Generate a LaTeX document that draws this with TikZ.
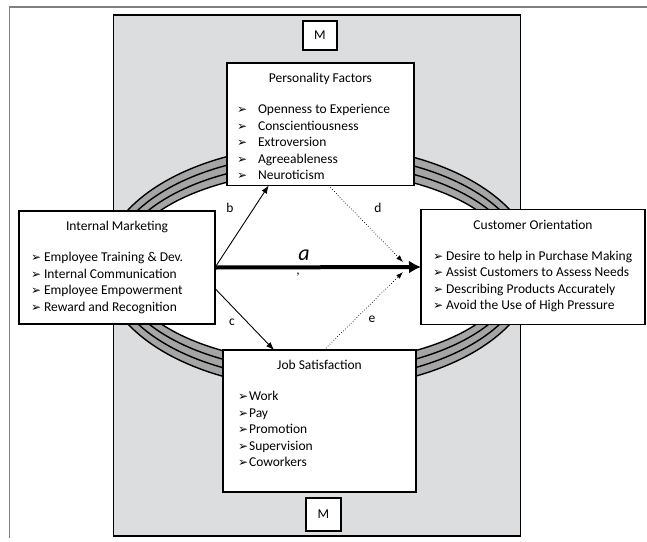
\documentclass[tikz,border=0pt]{standalone}
\usepackage{fontspec}
\setmainfont{Carlito}
\newfontfamily\dingfont{DejaVu Sans}
\usetikzlibrary{calc,arrows.meta}

\definecolor{panelgray}{RGB}{220,221,223}
\definecolor{ringgray}{RGB}{165,165,165}
\definecolor{framegray}{RGB}{128,128,128}

\newcommand{\bul}{{\dingfont\fontsize{12}{12}\selectfont ➢}}

\begin{document}
\begin{tikzpicture}[inner sep=0pt, outer sep=0pt, x=1pt, y=-1pt,
    every node/.style={font=\fontsize{13.5}{16.5}\selectfont},
    factorbox/.style={draw=black, line width=1.3pt, fill=white},
    mbox/.style={draw=black, line width=1.3pt, fill=white},
    link/.style={line width=0.9pt, -{Latex[length=8pt,width=6pt]}},
    dotlink/.style={line width=0.7pt, dotted, -{Latex[length=7pt,width=5pt]}}]
    \useasboundingbox (0,0) rectangle (647,541);

    % outer frame and grey panel
    \draw[framegray, line width=1.5pt] (9.5,538) -- (9.5,7) -- (647,7);
    \draw[line width=1.3pt, fill=panelgray] (113.5,15) rectangle (520.5,536);

    % rings
    \draw[line width=1.4pt, fill=ringgray] (319,267) ellipse [x radius=216, y radius=122];
    \draw[line width=1.4pt] (319,267) ellipse [x radius=209.3, y radius=113.3];
    \draw[line width=1.4pt] (319,267) ellipse [x radius=202.7, y radius=104.7];
    \draw[line width=1.4pt, fill=white] (319,267) ellipse [x radius=196, y radius=96];

    % M boxes
    \node[mbox, minimum width=34pt, minimum height=29pt] (m_top) at (320,35.5) {M};
    \node[mbox, minimum width=35pt, minimum height=33pt] (m_bottom) at (323.5,514.5) {M};

    % personality factors
    \node[factorbox, minimum width=187pt, minimum height=122.5pt] (pf) at (320.5,124.25) {};
    \node[anchor=base] (pf_title) at ($(pf.north)+(0,19.5)$) {Personality Factors};
    \node[anchor=north west] (pf_list) at ($(pf.north west)+(10,39)$)
    {
    \begin{tabular}{@{}l@{}}
    \bul\hspace{11pt}Openness to Experience \\
    \bul\hspace{11pt}Conscientiousness \\
    \bul\hspace{11pt}Extroversion \\
    \bul\hspace{11pt}Agreeableness \\
    \bul\hspace{11pt}Neuroticism \\
    \end{tabular}
    };

    % internal marketing
    \node[factorbox, minimum width=196pt, minimum height=113pt] (im) at (117,267.5) {};
    \node[anchor=base] (im_title) at ($(im.north)+(0,19.5)$) {Internal Marketing};
    \node[anchor=north west] (im_list) at ($(im.north west)+(12,39)$)
    {
    \begin{tabular}{@{}l@{}}
    \bul\hspace{3pt}Employee Training \& Dev. \\
    \bul\hspace{3pt}Internal Communication \\
    \bul\hspace{3pt}Employee Empowerment \\
    \bul\hspace{3pt}Reward and Recognition \\
    \end{tabular}
    };

    % customer orientation
    \node[factorbox, minimum width=224pt, minimum height=115pt] (co) at (533,267) {};
    \node[anchor=base] (co_title) at ($(co.north)+(0,19.5)$) {Customer Orientation};
    \node[anchor=north west] (co_list) at ($(co.north west)+(12,39)$)
    {
    \begin{tabular}{@{}l@{}}
    \bul\hspace{3pt}Desire to help in Purchase Making \\
    \bul\hspace{3pt}Assist Customers to Assess Needs \\
    \bul\hspace{3pt}Describing Products Accurately \\
    \bul\hspace{3pt}Avoid the Use of High Pressure \\
    \end{tabular}
    };

    % job satisfaction
    \node[factorbox, minimum width=193pt, minimum height=142pt] (js) at (319.5,421) {};
    \node[anchor=base] (js_title) at ($(js.north)+(0,19.5)$) {Job Satisfaction};
    \node[anchor=north west] (js_list) at ($(js.north west)+(15,39)$)
    {
    \begin{tabular}{@{}l@{}}
    \bul\hspace{1pt}Work \\
    \bul\hspace{1pt}Pay \\
    \bul\hspace{1pt}Promotion \\
    \bul\hspace{1pt}Supervision \\
    \bul\hspace{1pt}Coworkers \\
    \end{tabular}
    };

    % paths
    \draw[line width=4pt, -{Latex[length=12pt,width=13pt]}] (im.east) -- (co.west);
    \draw[link] (im.east) -- ($(pf.south west)+(41.7,0)$);
    \draw[link] ($(im.east)+(0,21)$) -- ($(js.north west)+(51,0)$);
    \coordinate (d_end) at (403,262);
    \coordinate (e_end) at (403,272);
    \draw[dotlink] ($(pf.south)+(8,0)$) -- (d_end);
    \draw[dotlink] ($(js.north)+(4.5,0)$) -- (e_end);

    % path labels
    \node (lab_a) at (304,255) {\fontsize{22}{22}\selectfont\itshape a};
    \node (lab_comma) at (298,275) {,};
    \node (lab_b) at (230,208) {b};
    \node (lab_c) at (232,322) {c};
    \node (lab_d) at (378,208) {d};
    \node (lab_e) at (372,319) {e};

\end{tikzpicture}
\end{document}
